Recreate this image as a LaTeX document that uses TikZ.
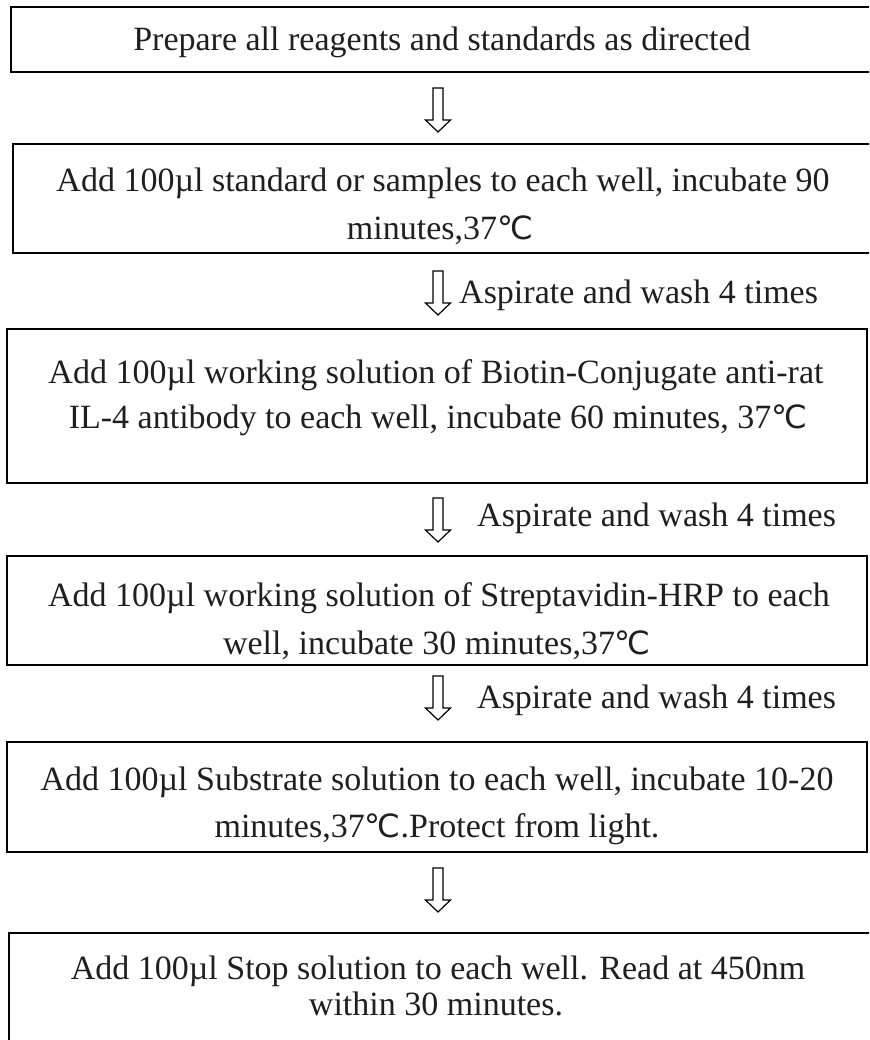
\documentclass[tikz,border=0pt]{standalone}
\usepackage{fontspec}
\setmainfont{Liberation Serif}
\newfontfamily\symfont{DejaVu Sans}
\newcommand{\degC}{{\symfont\fontsize{32}{32}\selectfont ℃}}
\begin{document}
\begin{tikzpicture}[x=1pt,y=-1pt,
  box/.style={draw=black, line width=2pt, rectangle, inner sep=0pt},
  txt/.style={anchor=base, inner sep=0pt, font=\fontsize{34}{40}\selectfont, text=black!88},
  lbl/.style={anchor=base west, inner sep=0pt, font=\fontsize{34}{40}\selectfont, text=black!88},
  pics/hollowdown/.style={code={\draw[line width=1.2pt, fill=white, line join=miter]
     (-5,0) -- (5,0) -- (5,32) -- (12.5,32) -- (0,44) -- (-12.5,32) -- (-5,32) -- cycle;}}
]
\useasboundingbox (0,0) rectangle (869,1040);
\clip (0,0) rectangle (869,1040);

% boxes
\node[box, minimum width=874pt, minimum height=65pt]  (b1) at (448,39.5) {};
\node[box, minimum width=872pt, minimum height=109pt] (b2) at (449,198.5) {};
\node[box, minimum width=860pt, minimum height=154pt] (b3) at (437,406) {};
\node[box, minimum width=860pt, minimum height=109pt] (b4) at (437,610.5) {};
\node[box, minimum width=860pt, minimum height=110pt] (b5) at (437,797) {};
\node[box, minimum width=876pt, minimum height=127pt] (b6) at (447,996.5) {};

% texts
\node[txt] (t1)  at (442,51)  {Prepare all reagents and standards as directed};
\node[txt] (t2a) at (443,192) {Add 100µl standard or samples to each well, incubate 90};
\node[txt] (t2b) at (440,240) {minutes,37\degC};
\node[txt] (t3a) at (436,383) {Add 100µl working solution of Biotin-Conjugate anti-rat};
\node[txt] (t3b) at (438,428) {IL-4 antibody to each well, incubate 60 minutes, 37\degC};
\node[txt] (t4a) at (439,606) {Add 100µl working solution of Streptavidin-HRP to each};
\node[txt] (t4b) at (437,654) {well, incubate 30 minutes,37\degC};
\node[txt] (t5a) at (437,790) {Add 100µl Substrate solution to each well, incubate 10-20};
\node[txt] (t5b) at (437,837) {minutes,37\degC.Protect from light.};
\node[txt] (t6a) at (438,979) {Add 100µl Stop solution to each well. Read at 450nm};
\node[txt] (t6b) at (436,1015) {within 30 minutes.};

% arrows
\coordinate (a1) at (438,88);
\coordinate (a2) at (438,271);
\coordinate (a3) at (438,498);
\coordinate (a4) at (438,676);
\coordinate (a5) at (438,868);
\pic at (a1) {hollowdown};
\pic at (a2) {hollowdown};
\pic at (a3) {hollowdown};
\pic at (a4) {hollowdown};
\pic at (a5) {hollowdown};

% labels
\node[lbl] (l2) at (459,303) {Aspirate and wash 4 times};
\node[lbl] (l3) at (477,526) {Aspirate and wash 4 times};
\node[lbl] (l4) at (477,708) {Aspirate and wash 4 times};
\end{tikzpicture}
\end{document}
